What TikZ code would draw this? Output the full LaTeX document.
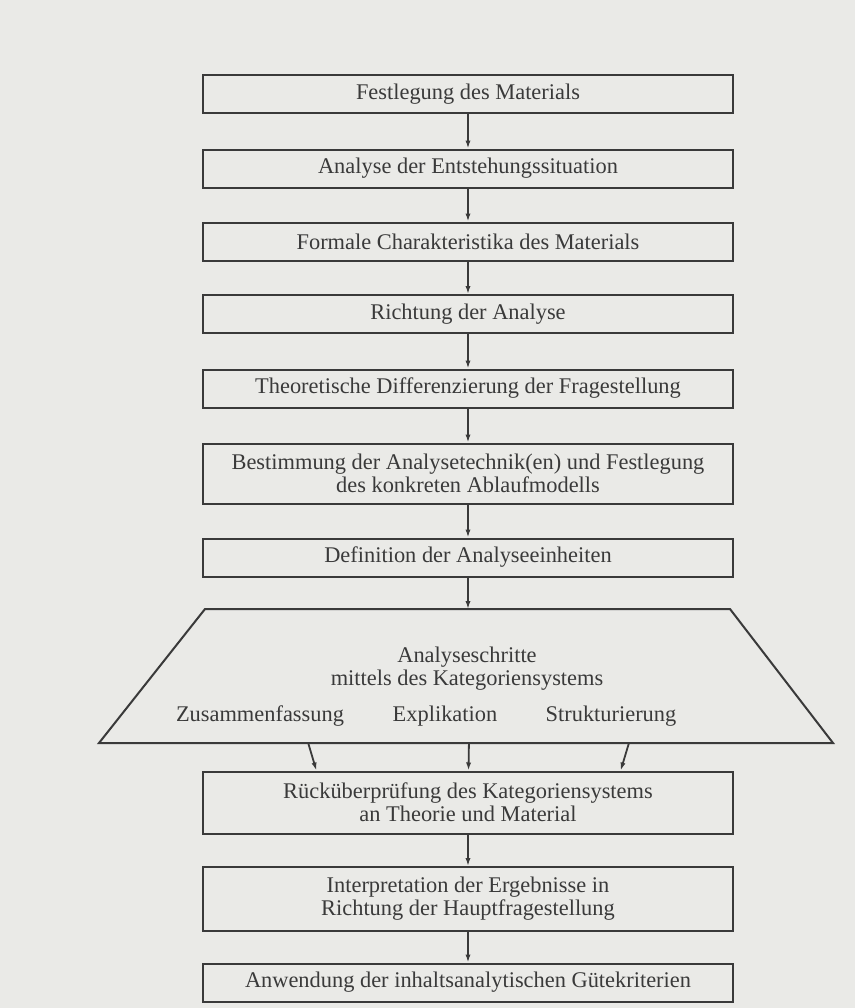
\documentclass[tikz,border=0pt]{standalone}
\usepackage{fontspec}
\setmainfont{Liberation Serif}
\usepackage{tikz}
\usetikzlibrary{positioning,arrows.meta,calc}
\definecolor{PaperGray}{RGB}{234,234,231}
\definecolor{InkGray}{RGB}{58,58,58}

\begin{document}
\begin{tikzpicture}[
        x=0.5pt, y=-0.5pt,
        % --- STYLE CHUNG ---
        stepbox/.style={
            rectangle,
            draw=InkGray,
            line width=1pt,
            text=InkGray,
            align=center,
            minimum width=265pt,
            minimum height=19pt,
            inner sep=1pt,
            font=\fontsize{11.2}{11.6}\selectfont
        },
        % Hop hai dong
        twolinebox/.style={
            stepbox,
            minimum height=31pt
        },
        steplabel/.style={
            text=InkGray,
            align=center,
            inner sep=0pt,
            font=\fontsize{11.2}{11.6}\selectfont
        },
        % Mui ten
        steparrow/.style={
            draw=InkGray,
            line width=0.9pt,
            -{Latex[length=4pt,width=2.6pt]}
        }
    ]

        % --- NEN GIAY ---
        \fill[PaperGray] (0,0) rectangle (855,1008);
        \useasboundingbox (0,0) rectangle (855,1008);

        % --- CAC BUOC ---
        \node[stepbox] (fest) at (468,94) {Festlegung des Materials};
        \node[stepbox] (entst) at (468,168.5) {Analyse der Entstehungssituation};
        \node[stepbox] (formal) at (468,241.5) {Formale Charakteristika des Materials};
        \node[stepbox] (richt) at (468,314) {Richtung der Analyse};
        \node[stepbox] (theor) at (468,388.5) {Theoretische Differenzierung der Fragestellung};
        \node[twolinebox, minimum height=30pt] (bestimm) at (468,473.5) {Bestimmung der Analysetechnik(en) und Festlegung\\des konkreten Ablaufmodells};
        \node[stepbox] (defin) at (468,557.5) {Definition der Analyseeinheiten};

        % --- HINH THANG ---
        \coordinate (trapTL) at (205,609);
        \coordinate (trapTR) at (730,609);
        \coordinate (trapBR) at (833,743);
        \coordinate (trapBL) at (99,743);
        \draw[InkGray, line width=1pt, line join=miter] (trapTL) -- (trapTR) -- (trapBR) -- (trapBL) -- cycle;
        \coordinate (trapIn) at (468,609);
        \node[steplabel] (schritte) at (467,669) {Analyseschritte\\mittels des Kategoriensystems};
        \node[steplabel] (zusam) at (260,716) {Zusammenfassung};
        \node[steplabel] (explik) at (445,716) {Explikation};
        \node[steplabel] (strukt) at (611,716) {Strukturierung};

        \node[twolinebox] (rueck) at (468,802.5) {Rücküberprüfung des Kategoriensystems\\an Theorie und Material};
        \node[twolinebox, minimum height=32pt] (interp) at (468,899) {Interpretation der Ergebnisse in\\Richtung der Hauptfragestellung};
        \node[stepbox] (anwend) at (468,982.5) {Anwendung der inhaltsanalytischen Gütekriterien};

        % --- MUI TEN ---
        \draw[steparrow] (fest) -- (entst);
        \draw[steparrow] (entst) -- (formal);
        \draw[steparrow] (formal) -- (richt);
        \draw[steparrow] (richt) -- (theor);
        \draw[steparrow] (theor) -- (bestimm);
        \draw[steparrow] (bestimm) -- (defin);
        \draw[steparrow] (defin) -- (trapIn);

        \coordinate (outL) at ($(trapBL)!0.285!(trapBR)$);
        \coordinate (outM) at ($(trapBL)!0.504!(trapBR)$);
        \coordinate (outR) at ($(trapBL)!0.722!(trapBR)$);
        \coordinate (inL) at ($(rueck.north west)!0.215!(rueck.north east)$);
        \coordinate (inR) at ($(rueck.north west)!0.787!(rueck.north east)$);
        \draw[steparrow] (outL) -- (inL);
        \draw[steparrow] (outM) -- (rueck);
        \draw[steparrow] (outR) -- (inR);

        \draw[steparrow] (rueck) -- (interp);
        \draw[steparrow] (interp) -- (anwend);

    \end{tikzpicture}
\end{document}
